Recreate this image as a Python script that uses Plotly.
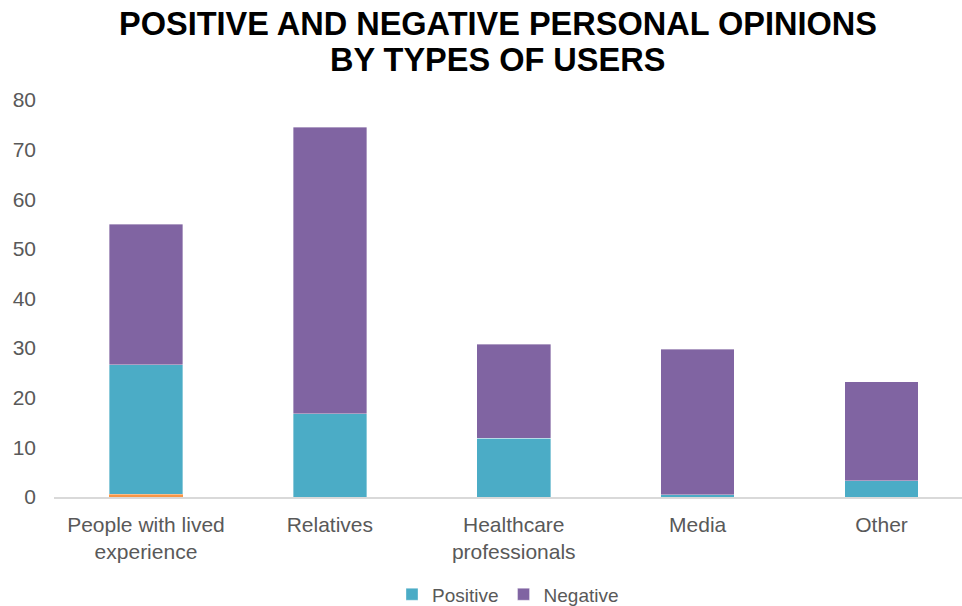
import plotly.graph_objects as go

categories = ["People with lived<br>experience", "Relatives", "Healthcare<br>professionals", "Media", "Other"]
hidden_vals = [0.6, 0, 0, 0, 0]
positive = [26.1, 16.8, 11.8, 0.5, 3.3]
negative = [28.3, 57.7, 19.0, 29.3, 19.9]
y_ticks = [0, 10, 20, 30, 40, 50, 60, 70, 80]
title_lines = ["POSITIVE AND NEGATIVE PERSONAL OPINIONS", "BY TYPES OF USERS"]

W, H = 962, 606
top, bottom = 100, 497.5
left = 54
plot_h = bottom - top

fig = go.Figure()
fig.add_bar(x=categories, y=hidden_vals, marker=dict(color="#F79646", line=dict(width=0)),
            showlegend=False, name="")
fig.add_bar(x=categories, y=positive, name="Positive",
            marker=dict(color="#4BACC6", line=dict(width=0.6, color="rgba(255,255,255,0.6)")))
fig.add_bar(x=categories, y=negative, name="Negative",
            marker=dict(color="#8064A2", line=dict(width=0.6, color="rgba(255,255,255,0.6)")))

title_centers_px = [24, 60]
for txt, cy in zip(title_lines, title_centers_px):
    fig.add_annotation(text="<b>" + txt + "</b>", xref="paper", yref="paper",
                       x=(497.5 - left) / (W - left), y=1 + (top - cy) / plot_h,
                       xanchor="center", yanchor="middle", showarrow=False,
                       font=dict(size=32.5, color="#000000",
                                 family="Liberation Sans, Arial, sans-serif"))

fig.update_layout(
    width=W, height=H,
    barmode="stack", bargap=0.6,
    paper_bgcolor="white", plot_bgcolor="white",
    margin=dict(l=left, r=0, t=top, b=H - bottom, autoexpand=False),
    font=dict(family="Liberation Sans, Arial, sans-serif", color="#595959", size=18),
    legend=dict(orientation="h", x=0.5, xanchor="center", y=-97.5 / plot_h, yanchor="middle",
                font=dict(size=19, color="#595959"), traceorder="normal",
                itemwidth=30, tracegroupgap=0),
    xaxis=dict(range=[-0.5, 4.5 - 11.5 / 183.9], showline=True, linecolor="#d9d9d9", linewidth=1.5,
               ticks="", tickfont=dict(size=21, color="#595959"), ticklabelstandoff=8),
    yaxis=dict(range=[0, 80], tickvals=y_ticks, showgrid=False, zeroline=False, showline=False,
               ticks="", tickfont=dict(size=21, color="#595959"), ticklabelstandoff=17),
)

fig.write_html("out.html")
